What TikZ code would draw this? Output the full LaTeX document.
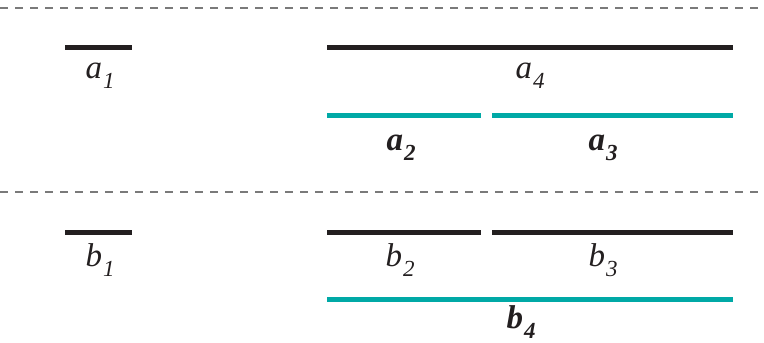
\documentclass[tikz,border=0pt]{standalone}
\usepackage{fontspec}
\setmainfont{Liberation Serif}
\definecolor{barblack}{HTML}{231F20}
\definecolor{barteal}{HTML}{00A9A6}
\definecolor{dashgray}{HTML}{7A7A7A}
\newcommand{\seglab}[2]{{\fontsize{33}{33}\selectfont\itshape #1}\kern1pt\raisebox{-10pt}{\fontsize{23}{23}\selectfont\itshape #2}}
\newcommand{\seglabb}[2]{{\fontsize{33}{33}\selectfont\bfseries\itshape #1}\kern1pt\raisebox{-10pt}{\fontsize{23}{23}\selectfont\bfseries\itshape #2}}
\tikzset{
  sep/.style={draw=dashgray, line width=1.3pt, dash pattern=on 8pt off 7pt},
  blackbar/.style={draw=barblack, line width=5pt},
  tealbar/.style={draw=barteal, line width=5pt},
  lab/.style={anchor=base, inner sep=0pt, text=barblack}
}
\begin{document}
\begin{tikzpicture}[x=1pt,y=-1pt]
\useasboundingbox (0,0) rectangle (764,343);
% separators
\coordinate (s1l) at (0,8); \coordinate (s1r) at (764,8);
\coordinate (s2l) at (0,192); \coordinate (s2r) at (764,192);
\draw[sep] (s1l) -- (s1r);
\draw[sep] (s2l) -- (s2r);
% top row
\coordinate (a1l) at (65,47); \coordinate (a1r) at (132,47);
\coordinate (a4l) at (327,47); \coordinate (a4r) at (733,47);
\coordinate (a2l) at (327,115); \coordinate (a2r) at (481,115);
\coordinate (a3l) at (492,115); \coordinate (a3r) at (733,115);
\draw[blackbar] (a1l) -- (a1r);
\draw[blackbar] (a4l) -- (a4r);
\draw[tealbar] (a2l) -- (a2r);
\draw[tealbar] (a3l) -- (a3r);
\node[lab] (la1) at (100,78) {\seglab{a}{1}};
\node[lab] (la4) at (530,78) {\seglab{a}{4}};
\node[lab] (la2) at (401,150) {\seglabb{a}{2}};
\node[lab] (la3) at (603,150) {\seglabb{a}{3}};
% bottom row
\coordinate (b1l) at (65,232); \coordinate (b1r) at (132,232);
\coordinate (b2l) at (327,232); \coordinate (b2r) at (481,232);
\coordinate (b3l) at (492,232); \coordinate (b3r) at (733,232);
\coordinate (b4l) at (327,299); \coordinate (b4r) at (733,299);
\draw[blackbar] (b1l) -- (b1r);
\draw[blackbar] (b2l) -- (b2r);
\draw[blackbar] (b3l) -- (b3r);
\draw[tealbar] (b4l) -- (b4r);
\node[lab] (lb1) at (100,266) {\seglab{b}{1}};
\node[lab] (lb2) at (400,266) {\seglab{b}{2}};
\node[lab] (lb3) at (603,266) {\seglab{b}{3}};
\node[lab] (lb4) at (521,328) {\seglabb{b}{4}};
\end{tikzpicture}
\end{document}
